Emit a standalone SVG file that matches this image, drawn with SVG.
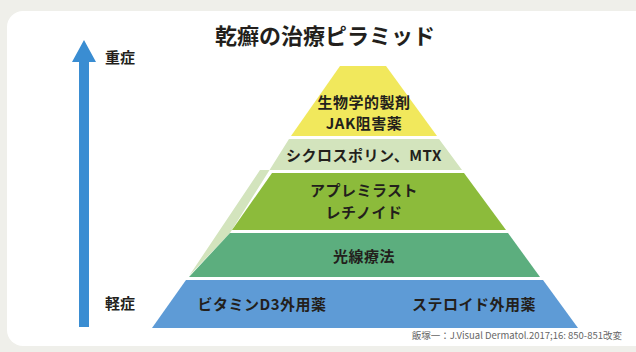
<svg xmlns="http://www.w3.org/2000/svg" width="636" height="352" viewBox="0 0 636 352">
<style>
.t{font-family:"Noto Sans CJK JP","Noto Sans",sans-serif;font-weight:700;fill:#231f1c;text-anchor:middle}
.lv{font-size:15px;letter-spacing:0.5px}
.side{font-size:15px}
.title{font-size:22px}
.note{font-family:"Noto Sans CJK JP","Noto Sans",sans-serif;font-size:9.5px;fill:#666;text-anchor:end}
</style>
<rect x="0" y="0" width="636" height="352" fill="#efefea"/>
<rect x="7" y="11" width="660" height="335" rx="16" fill="#ffffff"/>
<g id="title"><text class="t title" x="325" y="44">乾癬の治療ピラミッド</text></g>
<g id="connectors">
<path d="M79 327 V62 H72 L84 40 L96 62 H89 V327 Z" fill="#3a8dd2"/>
</g>
<g id="severe"><text class="t side" x="120" y="63">重症</text></g>
<g id="mild"><text class="t side" x="120" y="309">軽症</text></g>
<g id="level-cyclosporin">
<polygon points="289,139 439,139 462,170 260,170 189,276 230,233" fill="#d3e4bd"/>
<text class="t lv" x="364" y="161">シクロスポリン、MTX</text>
</g>
<g id="level-biologics">
<polygon points="340,66 386,66 437,136 291,136" fill="#f1e85c"/>
<text class="t lv" x="364" y="108">生物学的製剤</text>
<text class="t lv" x="364" y="129">JAK阻害薬</text>
</g>
<g id="level-apremilast">
<polygon points="272,173 464,173 506,230 232,230" fill="#8cbb3b"/>
<text class="t lv" x="364" y="196">アプレミラスト</text>
<text class="t lv" x="364" y="218">レチノイド</text>
</g>
<g id="level-phototherapy">
<polygon points="230,233 508,233 540,277 189,277" fill="#5cae7e"/>
<text class="t lv" x="364" y="262">光線療法</text>
</g>
<g id="level-topical">
<polygon points="186,280 543,280 578,328 152,328" fill="#5e9bd6"/>
<text class="t lv" x="262" y="310">ビタミンD3外用薬</text>
<text class="t lv" x="474" y="310">ステロイド外用薬</text>
</g>
<g id="source"><text class="note" x="622" y="339">飯塚一：J.Visual Dermatol.2017;16: 850-851改変</text></g>
</svg>
